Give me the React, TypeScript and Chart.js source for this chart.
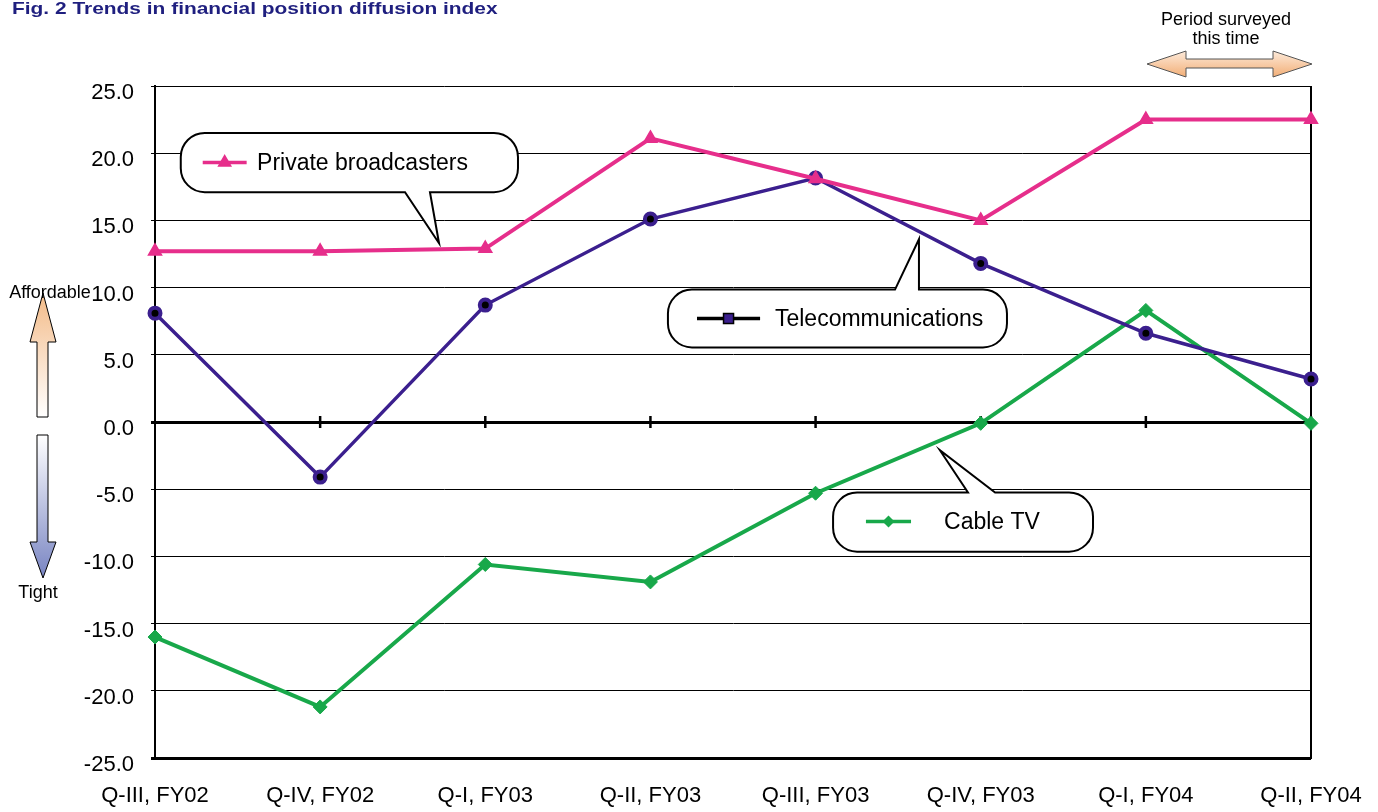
import React, { useEffect, useRef } from 'react';
import { Chart, registerables } from 'chart.js';

Chart.register(...registerables);

const categories = ['Q-III, FY02', 'Q-IV, FY02', 'Q-I, FY03', 'Q-II, FY03', 'Q-III, FY03', 'Q-IV, FY03', 'Q-I, FY04', 'Q-II, FY04'];
const privateBroadcasters = [12.7, 12.7, 12.9, 21.1, 18.1, 15.0, 22.5, 22.5];
const telecommunications = [8.1, -4.1, 8.7, 15.1, 18.15, 11.8, 6.6, 3.2];
const cableTV = [-16.0, -21.2, -10.6, -11.9, -5.3, -0.1, 8.3, -0.1];
const seriesNames = ['Private broadcasters', 'Telecommunications', 'Cable TV'];
const yMin = -25;
const yMax = 25;
const yStep = 5;
const titleText = 'Fig. 2 Trends in financial position diffusion index';
const periodText = ['Period surveyed', 'this time'];
const affordableText = 'Affordable';
const tightText = 'Tight';

const PINK = '#E62E8B';
const PURPLE = '#3B1F8E';
const GREEN = '#18A84A';
const FONT = '"Liberation Sans", Arial, sans-serif';

// callouts expressed in data space (category index, value)
const callouts = [
  { name: seriesNames[0], box: [0.156, 2.198, 21.5, 17.1], tail: { side: 'bottom', a: 1.514, b: 1.665, tx: 1.72, ty: 13.3 }, line: [0.289, 0.555, 19.3], textX: 0.618, marker: 'triangle' },
  { name: seriesNames[1], box: [3.106, 5.159, 9.85, 5.55], tail: { side: 'top', a: 4.481, b: 4.626, tx: 4.626, ty: 13.6 }, line: [3.282, 3.664, 7.7], textX: 3.754, marker: 'square' },
  { name: seriesNames[2], box: [4.106, 5.68, -5.25, -9.65], tail: { side: 'top', a: 4.923, b: 5.087, tx: 4.753, ty: -2.1 }, line: [4.305, 4.578, -7.4], textX: 4.778, marker: 'diamond' },
];

function drawMarker(ctx: CanvasRenderingContext2D, kind: string, cx: number, cy: number) {
  ctx.save();
  if (kind === 'triangle') {
    const r = 7;
    ctx.beginPath();
    ctx.moveTo(cx, cy - r);
    ctx.lineTo(cx + r * 0.866, cy + r * 0.5);
    ctx.lineTo(cx - r * 0.866, cy + r * 0.5);
    ctx.closePath();
    ctx.fillStyle = PINK;
    ctx.fill();
    ctx.strokeStyle = PINK;
    ctx.lineWidth = 1.5;
    ctx.stroke();
  } else if (kind === 'square') {
    ctx.fillStyle = PURPLE;
    ctx.fillRect(cx - 5, cy - 5, 10, 10);
    ctx.strokeStyle = '#000';
    ctx.lineWidth = 1.5;
    ctx.strokeRect(cx - 5, cy - 5, 10, 10);
  } else {
    const r = 6;
    ctx.beginPath();
    ctx.moveTo(cx, cy - r);
    ctx.lineTo(cx + r, cy);
    ctx.lineTo(cx, cy + r);
    ctx.lineTo(cx - r, cy);
    ctx.closePath();
    ctx.fillStyle = GREEN;
    ctx.fill();
  }
  ctx.restore();
}

const decorPlugin = {
  id: 'decor',
  beforeDatasetsDraw(chart: any) {
    const { ctx, chartArea } = chart;
    const xs = chart.scales.x;
    const ys = chart.scales.y;
    ctx.save();
    // right frame border
    ctx.strokeStyle = '#000';
    ctx.lineWidth = 2;
    ctx.beginPath();
    ctx.moveTo(chartArea.right, chartArea.top);
    ctx.lineTo(chartArea.right, chartArea.bottom + 1);
    ctx.stroke();
    // category tick marks on zero line
    const y0 = ys.getPixelForValue(0);
    ctx.lineWidth = 2.5;
    for (let i = 1; i < categories.length; i++) {
      const px = xs.getPixelForValue(i);
      ctx.beginPath();
      ctx.moveTo(px, y0 - 6);
      ctx.lineTo(px, y0 + 6);
      ctx.stroke();
    }
    // callouts
    for (const c of callouts) {
      const l = xs.getPixelForValue(c.box[0]);
      const r = xs.getPixelForValue(c.box[1]);
      const t = ys.getPixelForValue(c.box[2]);
      const b = ys.getPixelForValue(c.box[3]);
      const rad = 24;
      const ta = xs.getPixelForValue(c.tail.a);
      const tb = xs.getPixelForValue(c.tail.b);
      const tx = xs.getPixelForValue(c.tail.tx);
      const ty = ys.getPixelForValue(c.tail.ty);
      ctx.beginPath();
      ctx.moveTo(l + rad, t);
      if (c.tail.side === 'top') {
        ctx.lineTo(ta, t);
        ctx.lineTo(tx, ty);
        ctx.lineTo(tb, t);
      }
      ctx.lineTo(r - rad, t);
      ctx.arcTo(r, t, r, t + rad, rad);
      ctx.lineTo(r, b - rad);
      ctx.arcTo(r, b, r - rad, b, rad);
      if (c.tail.side === 'bottom') {
        ctx.lineTo(tb, b);
        ctx.lineTo(tx, ty);
        ctx.lineTo(ta, b);
      }
      ctx.lineTo(l + rad, b);
      ctx.arcTo(l, b, l, b - rad, rad);
      ctx.lineTo(l, t + rad);
      ctx.arcTo(l, t, l + rad, t, rad);
      ctx.closePath();
      ctx.fillStyle = '#fff';
      ctx.fill();
      ctx.strokeStyle = '#000';
      ctx.lineWidth = 2;
      ctx.lineJoin = 'miter';
      ctx.stroke();
      // legend line + marker
      const lx1 = xs.getPixelForValue(c.line[0]);
      const lx2 = xs.getPixelForValue(c.line[1]);
      const ly = ys.getPixelForValue(c.line[2]);
      ctx.beginPath();
      ctx.moveTo(lx1, ly);
      ctx.lineTo(lx2, ly);
      ctx.strokeStyle = c.marker === 'triangle' ? PINK : c.marker === 'square' ? '#000' : GREEN;
      ctx.lineWidth = 3.5;
      ctx.stroke();
      drawMarker(ctx, c.marker, (lx1 + lx2) / 2, ly);
      ctx.fillStyle = '#000';
      ctx.font = `23px ${FONT}`;
      ctx.textAlign = 'left';
      ctx.textBaseline = 'middle';
      ctx.fillText(c.name, xs.getPixelForValue(c.textX), ly + 1);
    }
    ctx.restore();
  },
  afterDraw(chart: any) {
    const { ctx } = chart;
    ctx.save();
    // title
    ctx.save();
    ctx.fillStyle = '#1F1F7F';
    ctx.font = `bold 17px ${FONT}`;
    ctx.textAlign = 'left';
    ctx.textBaseline = 'alphabetic';
    ctx.translate(12, 14);
    ctx.scale(1.23, 1);
    ctx.fillText(titleText, 0, 0);
    ctx.restore();

    // period surveyed
    ctx.fillStyle = '#000';
    ctx.font = `18px ${FONT}`;
    ctx.textAlign = 'center';
    ctx.textBaseline = 'middle';
    ctx.fillText(periodText[0], 1226, 20);
    ctx.fillText(periodText[1], 1226, 39);

    // double arrow
    const g1 = ctx.createLinearGradient(0, 51, 0, 77);
    g1.addColorStop(0, '#FDEADA');
    g1.addColorStop(1, '#F2AE76');
    ctx.beginPath();
    const pts = [[1147, 64], [1186, 51], [1186, 59], [1273, 59], [1273, 51], [1312, 64], [1273, 77], [1273, 68], [1186, 68], [1186, 77]];
    pts.forEach((p, i) => (i ? ctx.lineTo(p[0], p[1]) : ctx.moveTo(p[0], p[1])));
    ctx.closePath();
    ctx.fillStyle = g1;
    ctx.fill();
    ctx.strokeStyle = '#555';
    ctx.lineWidth = 1;
    ctx.stroke();

    // up arrow
    const g2 = ctx.createLinearGradient(0, 293, 0, 417);
    g2.addColorStop(0, '#F3BB88');
    g2.addColorStop(1, '#FFFFFF');
    ctx.beginPath();
    [[43, 293], [56, 342], [48, 342], [48, 417], [37, 417], [37, 342], [30, 342]].forEach((p, i) => (i ? ctx.lineTo(p[0], p[1]) : ctx.moveTo(p[0], p[1])));
    ctx.closePath();
    ctx.fillStyle = g2;
    ctx.fill();
    ctx.strokeStyle = '#000';
    ctx.stroke();

    // down arrow
    const g3 = ctx.createLinearGradient(0, 435, 0, 578);
    g3.addColorStop(0, '#FFFFFF');
    g3.addColorStop(1, '#7884C2');
    ctx.beginPath();
    [[37, 435], [48, 435], [48, 542], [56, 542], [43, 578], [30, 542], [37, 542]].forEach((p, i) => (i ? ctx.lineTo(p[0], p[1]) : ctx.moveTo(p[0], p[1])));
    ctx.closePath();
    ctx.fillStyle = g3;
    ctx.fill();
    ctx.stroke();

    ctx.fillStyle = '#000';
    ctx.font = `18px ${FONT}`;
    ctx.textAlign = 'center';
    ctx.fillText(affordableText, 50, 293);
    ctx.fillText(tightText, 38, 593);
    ctx.restore();
  },
};

export default function App() {
  const ref = useRef<HTMLCanvasElement>(null);
  useEffect(() => {
    const chart = new Chart(ref.current as HTMLCanvasElement, {
      type: 'line',
      data: {
        labels: categories,
        datasets: [
          {
            label: seriesNames[0],
            data: privateBroadcasters,
            borderColor: PINK,
            backgroundColor: PINK,
            borderWidth: 4,
            pointStyle: 'triangle',
            pointRadius: 7.5,
            pointBorderWidth: 1.5,
            pointBackgroundColor: PINK,
            pointBorderColor: PINK,
            tension: 0,
          },
          {
            label: seriesNames[1],
            data: telecommunications,
            borderColor: PURPLE,
            backgroundColor: '#000',
            borderWidth: 3.5,
            pointStyle: 'circle',
            pointRadius: 5.5,
            pointBorderWidth: 4,
            pointBackgroundColor: '#000',
            pointBorderColor: PURPLE,
            tension: 0,
          },
          {
            label: seriesNames[2],
            data: cableTV,
            borderColor: GREEN,
            backgroundColor: GREEN,
            borderWidth: 4,
            pointStyle: 'rectRot',
            pointRadius: 7,
            pointBorderWidth: 1,
            pointBackgroundColor: GREEN,
            pointBorderColor: GREEN,
            tension: 0,
          },
        ],
      },
      options: {
        responsive: false,
        animation: false,
        layout: { padding: { top: 86, right: 67, bottom: 0, left: 0 } },
        plugins: { legend: { display: false }, tooltip: { enabled: false }, title: { display: false } },
        scales: {
          x: {
            type: 'category',
            offset: false,
            grid: { display: false },
            border: { display: false },
            ticks: { color: '#000', font: { family: FONT, size: 22 }, padding: 17, maxRotation: 0, minRotation: 0, autoSkip: false },
            afterFit: (s: any) => {
              s.height = 54;
              s.paddingLeft = 0;
              s.paddingRight = 0;
            },
          },
          y: {
            min: yMin,
            max: yMax,
            ticks: {
              stepSize: yStep,
              color: '#000',
              font: { family: FONT, size: 22 },
              padding: 17,
              labelOffset: 7,
              callback: (v: any) => Number(v).toFixed(1),
            },
            grid: {
              color: '#000',
              lineWidth: (c: any) => (c.tick && (c.tick.value === 0 || c.tick.value === yMin) ? 3 : 1),
              tickLength: 4,
            },
            border: { display: true, color: '#000', width: 2 },
            afterFit: (s: any) => {
              s.width = 155;
              s.paddingTop = 0;
              s.paddingBottom = 0;
            },
          },
        },
      },
      plugins: [decorPlugin],
    } as any);
    return () => chart.destroy();
  }, []);
  return (
    <div style={{ position: 'fixed', left: 0, top: 0, width: 1378, height: 812, background: '#fff' }}>
      <canvas ref={ref} width={1378} height={812} style={{ width: 1378, height: 812 }} />
    </div>
  );
}
